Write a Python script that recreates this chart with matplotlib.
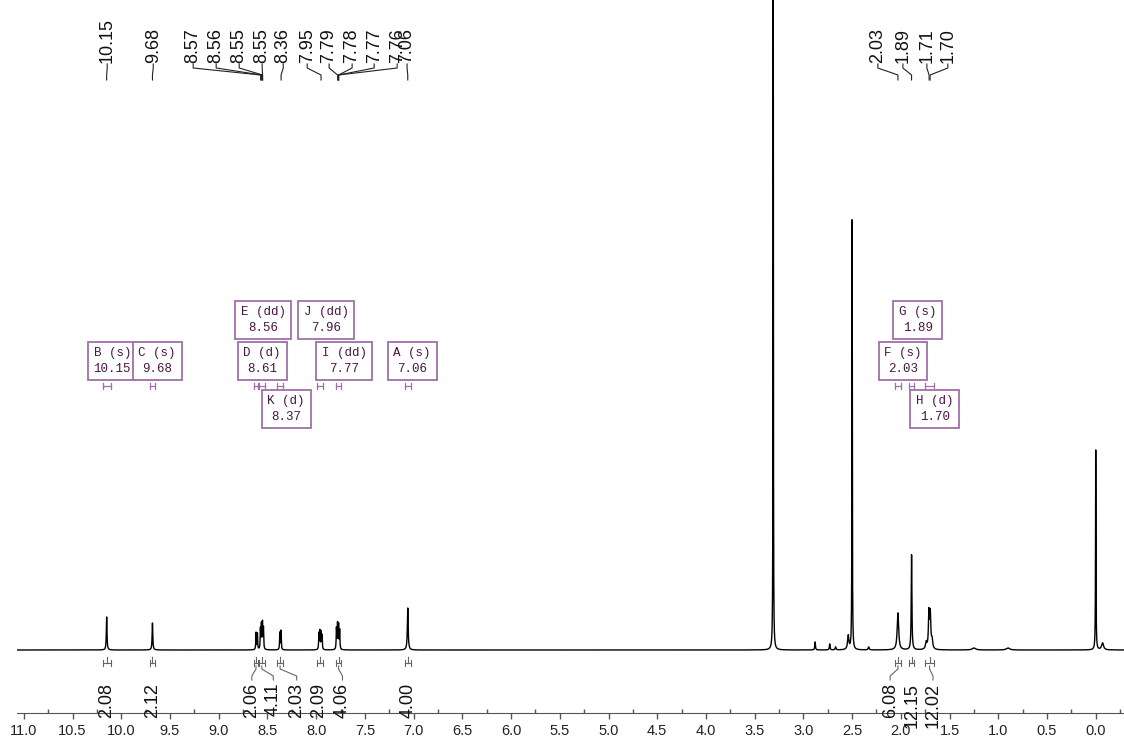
import numpy as np
import matplotlib.pyplot as plt
from matplotlib.ticker import MultipleLocator, FormatStrFormatter

plt.rcParams['font.family'] = ['Liberation Sans', 'DejaVu Sans']

# spectrum lines: shift (ppm), height above baseline, half width (ppm)
peak_ppm = [10.15, 9.68, 8.617, 8.603, 8.572, 8.562, 8.551, 8.541, 8.373, 8.361,
            7.972, 7.962, 7.950, 7.940, 7.792, 7.781, 7.770, 7.759, 7.06,
            3.31, 2.88, 2.73, 2.67, 2.54, 2.50, 2.33, 2.03, 1.89,
            1.74, 1.712, 1.698, 1.68, 1.25, 0.90, 0.0, -0.07]
peak_height = [33, 27, 17, 16, 20, 24, 26, 21, 17, 19,
               16, 18, 17, 14, 21, 25, 24, 19, 42,
               900, 8, 6, 3, 14, 430, 3, 37, 95,
               7, 36, 34, 9, 2, 2, 200, 7]
peak_hwhm = [0.004, 0.004, 0.003, 0.003, 0.003, 0.003, 0.003, 0.003, 0.003, 0.003,
             0.003, 0.003, 0.003, 0.003, 0.003, 0.003, 0.003, 0.003, 0.005,
             0.0018, 0.004, 0.004, 0.005, 0.008, 0.0022, 0.006, 0.009, 0.004,
             0.008, 0.006, 0.006, 0.008, 0.02, 0.02, 0.0025, 0.012]

# peak picking
pick_text = ['10.15', '9.68', '8.57', '8.56', '8.55', '8.55', '8.36', '7.95',
             '7.79', '7.78', '7.77', '7.76', '7.06', '2.03', '1.89', '1.71', '1.70']
pick_ppm = [10.15, 9.68, 8.57, 8.56, 8.55, 8.55, 8.36, 7.95,
            7.78, 7.77, 7.77, 7.77, 7.06, 2.03, 1.89, 1.71, 1.70]

# multiplets
mult_name = ['A', 'B', 'C', 'D', 'E', 'F', 'G', 'H', 'I', 'J', 'K']
mult_type = ['s', 's', 's', 'd', 'dd', 's', 's', 'd', 'dd', 'dd', 'd']
mult_shift = [7.06, 10.15, 9.68, 8.61, 8.56, 2.03, 1.89, 1.70, 7.77, 7.96, 8.37]
mult_from = [7.09, 10.19, 9.71, 8.64, 8.585, 2.06, 1.915, 1.75, 7.80, 7.99, 8.40]
mult_to = [7.03, 10.11, 9.65, 8.595, 8.53, 2.00, 1.865, 1.66, 7.74, 7.93, 8.34]
mult_integral = ['4.00', '2.08', '2.12', '2.06', '4.11', '6.08', '12.15', '12.02', '4.06', '2.09', '2.03']

# layout of labels (ppm positions and heights in px above baseline)
pick_label_x = [10.144, 9.672, 9.262, 9.026, 8.790, 8.554, 8.338, 8.092, 7.867,
                7.631, 7.405, 7.169, 7.067, 2.236, 1.979, 1.733, 1.518]
box_x = [7.015, 10.092, 9.631, 8.554, 8.544, 1.979, 1.826, 1.651, 7.713, 7.897, 8.308]
box_y = [289, 289, 289, 289, 330, 289, 330, 241, 289, 330, 241]
integral_label_x = [7.06, 10.15, 9.68, 8.66, 8.44, 2.11, 1.88, 1.67, 7.73, 7.97, 8.20]

ppm = np.linspace(11.07, -0.29, 60000)
spec = np.zeros_like(ppm)
for c, h, w in zip(peak_ppm, peak_height, peak_hwhm):
    spec += h / (1 + ((ppm - c) / w) ** 2)

fig = plt.figure(figsize=(11.24, 7.42), dpi=100)
ax = fig.add_axes([17 / 1124, 29 / 742, 1107 / 1124, 713 / 742])
ax.plot(ppm, spec, color='black', lw=1.0)
ax.set_xlim(11.07, -0.29)
ax.set_ylim(-63, 650)

for s in ['top', 'left', 'right']:
    ax.spines[s].set_visible(False)
ax.spines['bottom'].set_color('#555555')
ax.set_yticks([])
ax.xaxis.set_major_locator(MultipleLocator(0.5))
ax.xaxis.set_minor_locator(MultipleLocator(0.25))
ax.xaxis.set_major_formatter(FormatStrFormatter('%.1f'))
ax.tick_params(axis='x', which='major', direction='out', length=4, width=1,
               colors='#555555', labelcolor='#222222', labelsize=10.5, pad=4)
ax.tick_params(axis='x', which='minor', direction='in', length=3, width=1, colors='#555555')

# peak picking labels and connectors
for t, p, lx in zip(pick_text, pick_ppm, pick_label_x):
    ax.text(lx, 587, t, rotation=90, ha='center', va='bottom', fontsize=13, color='#111111')
    ax.plot([lx, lx, p, p], [586, 582, 575, 570], color='#222222', lw=0.8, clip_on=False)

box_edge = '#a070a8'
box_text = '#4a1545'
for i in range(len(mult_name)):
    label = f"{mult_name[i]} ({mult_type[i]})\n{mult_shift[i]:.2f}"
    ax.text(box_x[i], box_y[i], label, ha='center', va='center', multialignment='center',
            fontsize=9, family='Liberation Mono', color=box_text, linespacing=1.35,
            bbox=dict(boxstyle='square,pad=0.45', fc='white', ec=box_edge, lw=1.3))
    # range marker under the boxes
    x0, x1 = mult_from[i], mult_to[i]
    ax.plot([x0, x0, np.nan, x0, x1, np.nan, x1, x1], [261, 267, np.nan, 264, 264, np.nan, 261, 267],
            color=box_edge, lw=0.9)
    # integral bracket under the baseline
    mid = (x0 + x1) / 2
    ax.plot([x0, x0, np.nan, x0, x1, np.nan, x1, x1, np.nan, mid, mid],
            [-10, -16, np.nan, -13, -13, np.nan, -10, -16, np.nan, -13, -7],
            color='#666666', lw=0.8)
    lx = integral_label_x[i]
    if abs(lx - mid) > 0.03:
        ax.plot([mid, mid, lx, lx], [-16, -19, -26, -30], color='#666666', lw=0.8)
    ax.text(lx, -33, mult_integral[i], rotation=90, ha='center', va='top',
            fontsize=13, color='#111111')

fig.savefig('out.png', dpi=100)
